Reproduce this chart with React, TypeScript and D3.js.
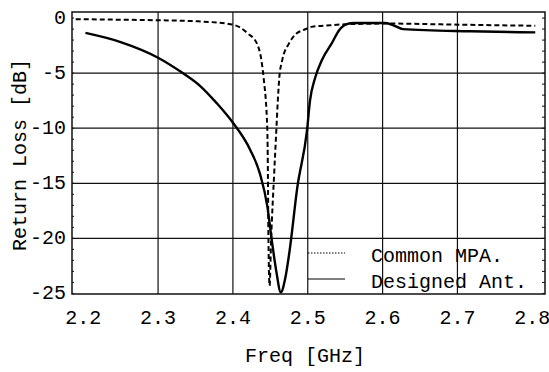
import React from 'react';
import * as d3 from 'd3';

// Common MPA. (dashed)
const commonFreq = [2.19, 2.25, 2.30, 2.354, 2.40, 2.42, 2.432, 2.438, 2.441, 2.446, 2.447, 2.4475, 2.449, 2.451, 2.455, 2.458, 2.460, 2.462, 2.466, 2.475, 2.485, 2.494, 2.505, 2.53, 2.557, 2.606, 2.70, 2.804];
const commonLoss = [-0.1, -0.15, -0.2, -0.3, -0.6, -1.4, -2.3, -3.8, -5.4, -10.2, -16, -20.2, -24.3, -20.2, -14.3, -10.2, -7.5, -5.4, -3.8, -2.3, -1.4, -1.1, -0.8, -0.65, -0.55, -0.5, -0.6, -0.7];

// Designed Ant. (solid)
const designFreq = [2.203, 2.25, 2.30, 2.332, 2.356, 2.378, 2.40, 2.423, 2.436, 2.446, 2.452, 2.458, 2.464, 2.470, 2.476, 2.486, 2.499, 2.503, 2.51, 2.519, 2.532, 2.542, 2.552, 2.562, 2.604, 2.616, 2.627, 2.717, 2.804];
const designLoss = [-1.35, -2.18, -3.6, -4.95, -6.15, -7.7, -9.5, -11.95, -14.1, -17.1, -20.2, -23.0, -24.9, -23.6, -21.0, -15.4, -10.2, -7.5, -5.4, -3.8, -2.3, -1.1, -0.55, -0.45, -0.45, -0.7, -1.0, -1.2, -1.3];

const xTicks = [2.2, 2.3, 2.4, 2.5, 2.6, 2.7, 2.8];
const yTicks = [0, -5, -10, -15, -20, -25];
const seriesNames = ['Common MPA.', 'Designed Ant.'];

const W = 549;
const H = 372;
const frame = { left: 72, right: 545, top: 12, bottom: 294 };
const font = '"Liberation Mono", "Courier New", monospace';
const fs = 20;

const App: React.FC = () => {
  const x = d3.scaleLinear().domain([2.185, 2.817]).range([frame.left, frame.right]);
  const y = d3.scaleLinear().domain([-25.05, 0.55]).range([frame.bottom, frame.top]);

  const line = d3.line<[number, number]>()
    .x(d => x(d[0]))
    .y(d => y(d[1]))
    .curve(d3.curveMonotoneX);

  const common = commonFreq.map((f, i) => [f, commonLoss[i]] as [number, number]);
  const design = designFreq.map((f, i) => [f, designLoss[i]] as [number, number]);

  const minor = d3.range(-25, 1, 1);

  return (
    <svg width={W} height={H} style={{ position: 'absolute', left: 0, top: 0, background: '#fff' }} fontFamily={font}>
      {/* grid */}
      {xTicks.filter(t => t > 2.2 && t < 2.8).map(t => (
        <line key={'gx' + t} x1={x(t)} x2={x(t)} y1={frame.top} y2={frame.bottom} stroke="#111" strokeWidth={1.2} />
      ))}
      {yTicks.filter(t => t > -25 && t < 0).map(t => (
        <line key={'gy' + t} x1={frame.left} x2={frame.right} y1={y(t)} y2={y(t)} stroke="#111" strokeWidth={1.2} />
      ))}
      {/* minor ticks on the side frames */}
      {minor.map(t => (
        <g key={'m' + t}>
          <line x1={frame.right - 3} x2={frame.right} y1={y(t)} y2={y(t)} stroke="#111" strokeWidth={1} />
          <line x1={frame.left} x2={frame.left + 2} y1={y(t)} y2={y(t)} stroke="#111" strokeWidth={1} />
        </g>
      ))}
      <rect x={frame.left} y={frame.top} width={frame.right - frame.left} height={frame.bottom - frame.top} fill="none" stroke="#111" strokeWidth={1.5} />

      {/* curves */}
      <path d={line(common) ?? ''} fill="none" stroke="#000" strokeWidth={2} strokeDasharray="5,3" />
      <path d={line(design) ?? ''} fill="none" stroke="#000" strokeWidth={2.4} />

      {/* legend */}
      <line x1={308} x2={345} y1={253} y2={253} stroke="#000" strokeWidth={1} strokeDasharray="1.5,1.5" />
      <line x1={308} x2={345} y1={279} y2={279} stroke="#000" strokeWidth={1.2} />
      <text x={371} y={262} fontSize={fs}>{seriesNames[0]}</text>
      <text x={371} y={288} fontSize={fs}>{seriesNames[1]}</text>

      {/* tick labels */}
      {xTicks.map(t => (
        <text key={'tx' + t} x={x(t)} y={324} fontSize={fs} textAnchor="middle">{t.toFixed(1)}</text>
      ))}
      {yTicks.map(t => (
        <text key={'ty' + t} x={66} y={y(t) + 6} fontSize={fs} textAnchor="end">{t === 0 ? '0' : String(t)}</text>
      ))}

      {/* axis titles */}
      <text x={305} y={362} fontSize={fs} textAnchor="middle">Freq [GHz]</text>
      <text transform={`translate(26,155) rotate(-90)`} fontSize={fs} textAnchor="middle">Return Loss [dB]</text>
    </svg>
  );
};

export default App;
